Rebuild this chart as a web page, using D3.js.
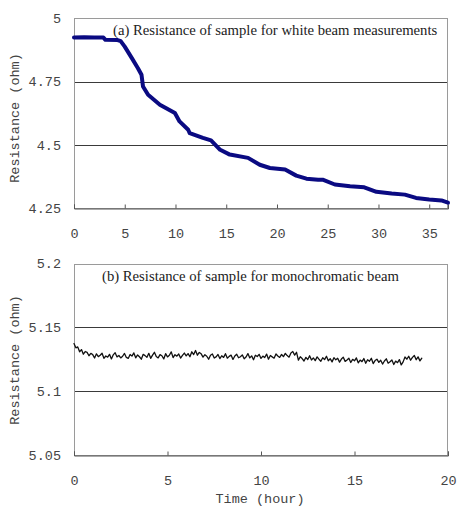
<!DOCTYPE html>
<html><head><meta charset="utf-8">
<script src="https://cdn.jsdelivr.net/npm/d3@7/dist/d3.min.js"></script>
<style>body{margin:0;background:#fff}svg{display:block}</style>
</head><body><svg id="c" width="457" height="508"></svg>
<script>
// Panel (a): white beam
const whiteTime  = [0, 1, 2, 2.9, 3.1, 4.3, 4.6, 5.0, 5.7, 6.3, 6.65, 6.8, 7.3, 8.46, 9.94, 10.4, 11.25, 11.4, 12.7, 13.5, 14.4, 15.35, 17.15, 18.3, 19.3, 20.8, 21.9, 22.9, 24.05, 24.5, 25.7, 27.2, 28.6, 29.8, 31.3, 32.6, 33.7, 35.0, 36.2, 36.85];
const whiteValue = [4.924, 4.925, 4.924, 4.924, 4.915, 4.914, 4.910, 4.888, 4.843, 4.803, 4.777, 4.731, 4.698, 4.659, 4.626, 4.593, 4.560, 4.547, 4.528, 4.518, 4.481, 4.462, 4.449, 4.422, 4.409, 4.403, 4.379, 4.367, 4.363, 4.363, 4.344, 4.337, 4.333, 4.315, 4.308, 4.304, 4.291, 4.285, 4.281, 4.272];
const whiteYTicks = [4.25, 4.5, 4.75, 5];
const whiteXTicks = [0, 5, 10, 15, 20, 25, 30, 35];

// Panel (b): monochromatic beam
const monoTime = [0,0.1,0.2,0.3,0.4,0.5,0.6,0.7,0.8,0.9,1,1.1,1.2,1.3,1.4,1.5,1.6,1.7,1.8,1.9,2,2.1,2.2,2.3,2.4,2.5,2.6,2.7,2.8,2.9,3,3.1,3.2,3.3,3.4,3.5,3.6,3.7,3.8,3.9,4,4.1,4.2,4.3,4.4,4.5,4.6,4.7,4.8,4.9,5,5.1,5.2,5.3,5.4,5.5,5.6,5.7,5.8,5.9,6,6.1,6.2,6.3,6.4,6.5,6.6,6.7,6.8,6.9,7,7.1,7.2,7.3,7.4,7.5,7.6,7.7,7.8,7.9,8,8.1,8.2,8.3,8.4,8.5,8.6,8.7,8.8,8.9,9,9.1,9.2,9.3,9.4,9.5,9.6,9.7,9.8,9.9,10,10.1,10.2,10.3,10.4,10.5,10.6,10.7,10.8,10.9,11,11.1,11.2,11.3,11.4,11.5,11.6,11.7,11.8,11.9,12,12.1,12.2,12.3,12.4,12.5,12.6,12.7,12.8,12.9,13,13.1,13.2,13.3,13.4,13.5,13.6,13.7,13.8,13.9,14,14.1,14.2,14.3,14.4,14.5,14.6,14.7,14.8,14.9,15,15.1,15.2,15.3,15.4,15.5,15.6,15.7,15.8,15.9,16,16.1,16.2,16.3,16.4,16.5,16.6,16.7,16.8,16.9,17,17.1,17.2,17.3,17.4,17.5,17.6,17.7,17.8,17.9,18,18.1,18.2,18.3,18.4,18.5,18.6];
const monoValue = [
5.1374,5.1341,5.1348,5.1310,5.1327,5.1291,5.1312,5.1305,5.1279,5.1298,
5.1288,5.1261,5.1294,5.1272,5.1283,5.1299,5.1259,5.1277,5.1268,5.1290,
5.1254,5.1286,5.1303,5.1270,5.1281,5.1262,5.1275,5.1297,5.1266,5.1258,
5.1289,5.1276,5.1301,5.1263,5.1285,5.1271,5.1252,5.1290,5.1280,5.1267,
5.1298,5.1259,5.1284,5.1306,5.1273,5.1262,5.1288,5.1279,5.1254,5.1295,
5.1270,5.1283,5.1309,5.1265,5.1287,5.1276,5.1293,5.1261,5.1282,5.1300,
5.1278,5.1296,5.1271,5.1310,5.1288,5.1320,5.1283,5.1305,5.1294,5.1268,
5.1287,5.1275,5.1252,5.1283,5.1293,5.1261,5.1270,5.1289,5.1257,5.1279,
5.1266,5.1295,5.1260,5.1274,5.1284,5.1250,5.1277,5.1291,5.1263,5.1271,
5.1286,5.1255,5.1269,5.1296,5.1262,5.1278,5.1248,5.1283,5.1273,5.1290,
5.1258,5.1276,5.1265,5.1292,5.1252,5.1281,5.1270,5.1260,5.1293,5.1277,
5.1266,5.1289,5.1272,5.1298,5.1280,5.1268,5.1301,5.1312,5.1284,5.1306,
5.1245,5.1271,5.1257,5.1238,5.1266,5.1250,5.1279,5.1246,5.1262,5.1241,
5.1270,5.1252,5.1236,5.1263,5.1249,5.1275,5.1240,5.1256,5.1231,5.1264,
5.1247,5.1259,5.1229,5.1253,5.1268,5.1235,5.1246,5.1260,5.1226,5.1251,
5.1239,5.1262,5.1224,5.1245,5.1233,5.1257,5.1220,5.1248,5.1236,5.1259,
5.1218,5.1241,5.1252,5.1227,5.1244,5.1214,5.1238,5.1255,5.1221,5.1232,
5.1246,5.1210,5.1237,5.1225,5.1249,5.1207,5.1231,5.1269,5.1252,5.1275,
5.1244,5.1266,5.1281,5.1248,5.1270,5.1239,5.1260];
const monoYTicks = [5.05, 5.1, 5.15, 5.2];
const monoXTicks = [0, 5, 10, 15, 20];

const svg = d3.select("#c");
const monoFont = "'Liberation Mono', 'DejaVu Sans Mono', monospace";
const serifFont = "'Liberation Serif', 'DejaVu Serif', serif";

function panel(opt) {
  const x = d3.scaleLinear().domain(opt.xDomain).range([74, 448]);
  const y = d3.scaleLinear().domain(opt.yDomain).range([opt.bottom, opt.top]);
  const g = svg.append("g");
  g.selectAll("line.grid").data(opt.yTicks.filter(v => v !== opt.yDomain[0] && v !== opt.yDomain[1]))
    .join("line").attr("x1", 74).attr("x2", 448)
    .attr("y1", d => Math.round(y(d)) + 0.5).attr("y2", d => Math.round(y(d)) + 0.5)
    .attr("stroke", "#3a3a3a").attr("stroke-width", 1);
  g.append("rect").attr("x", 74.5).attr("y", Math.round(opt.top) + 0.5)
    .attr("width", 373).attr("height", Math.round(opt.bottom) - Math.round(opt.top))
    .attr("fill", "none").attr("stroke", "#9a9a9a");
  const xa = g.append("g").attr("transform", `translate(0,${Math.round(opt.bottom) + 0.5})`)
    .call(d3.axisBottom(x).tickValues(opt.xTicks).tickSize(-4).tickPadding(0).tickFormat(d3.format("d")));
  xa.select(".domain").attr("stroke", "#555");
  xa.selectAll(".tick line").attr("stroke", "#555");
  xa.selectAll(".tick text").attr("font-family", monoFont).attr("font-size", 13.5).attr("fill", "#444")
    .attr("y", opt.xLabelDy).attr("dy", 0);
  const ya = g.append("g").attr("transform", "translate(74,0)")
    .call(d3.axisLeft(y).tickValues(opt.yTicks).tickSize(0).tickPadding(13).tickFormat(d => String(d)));
  ya.select(".domain").remove();
  ya.selectAll(".tick text").attr("font-family", monoFont).attr("font-size", 13.5).attr("fill", "#444");
  g.append("text").attr("transform", `translate(19,${opt.titleY}) rotate(-90)`)
    .attr("text-anchor", "middle").attr("font-family", monoFont).attr("font-size", 13.5).attr("fill", "#444")
    .text("Resistance (ohm)");
  g.append("text").attr("x", opt.noteX).attr("y", opt.noteY).attr("font-family", serifFont)
    .attr("font-size", 14.7).attr("fill", "#222").text(opt.note);
  const line = d3.line().x(d => x(d[0])).y(d => y(d[1]));
  g.append("path").datum(d3.zip(opt.t, opt.v)).attr("d", line).attr("fill", "none")
    .attr("stroke", opt.color).attr("stroke-width", opt.width).attr("stroke-linejoin", "round").attr("stroke-linecap", "round");
  return {x, y};
}

panel({xDomain: [0, 36.85], yDomain: [4.25, 5], top: 18.3, bottom: 208.3,
  yTicks: whiteYTicks, xTicks: whiteXTicks, xLabelDy: 29, titleY: 118,
  noteX: 113, noteY: 35, note: "(a) Resistance of sample for white beam measurements",
  t: whiteTime, v: whiteValue, color: "#0a0a82", width: 4});

panel({xDomain: [0, 20], yDomain: [5.05, 5.2], top: 263.6, bottom: 455.3,
  yTicks: monoYTicks, xTicks: monoXTicks, xLabelDy: 29, titleY: 360,
  noteX: 102, noteY: 281, note: "(b) Resistance of sample for monochromatic beam",
  t: monoTime, v: monoValue, color: "#111", width: 1.3});

svg.append("text").attr("x", 260).attr("y", 503).attr("text-anchor", "middle")
  .attr("font-family", monoFont).attr("font-size", 13.5).attr("fill", "#444").text("Time (hour)");
</script></body></html>
